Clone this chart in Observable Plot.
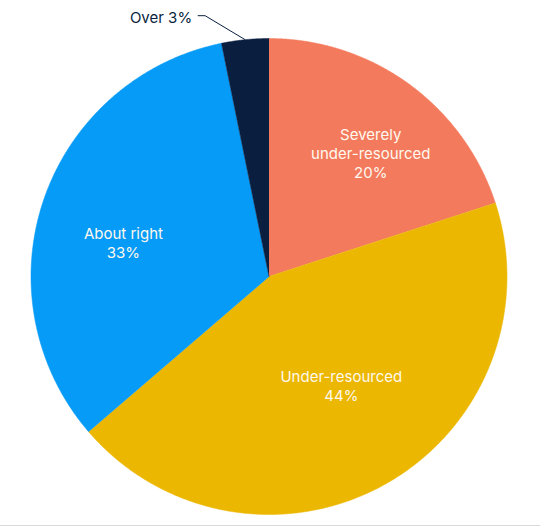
<!DOCTYPE html>
<html><head><meta charset="utf-8">
<script src="https://cdn.jsdelivr.net/npm/d3@7"></script>
<script src="https://cdn.jsdelivr.net/npm/@observablehq/plot@0.6"></script>
<style>
html,body{margin:0;padding:0;background:#fff;}
#chart{width:540px;height:525px;border-bottom:1px solid #d9d9d9;}
#chart svg{display:block;}
</style></head><body><div id="chart"></div>
<script>
const categories = ["Severely under-resourced", "Under-resourced", "About right", "Over"];
const labels = ["Severely\nunder-resourced", "Under-resourced", "About right", "Over"];
const values = [20, 43.7, 33.1, 3.2];
const colors = ["#F47A5D", "#EBB700", "#069BF7", "#0A1F40"];

const W = 540, H = 525, cx = 268.5, cy = 276, R = 238;
const total = d3.sum(values);
let cum = 0;
const slices = categories.map((c, i) => {
  const a0 = cum / total * 2 * Math.PI; cum += values[i];
  const a1 = cum / total * 2 * Math.PI;
  return {c, i, a0, a1, mid: (a0 + a1) / 2};
});
const pts = [];
for (const s of slices) {
  pts.push({c: s.c, x: 0, y: 0});
  const n = Math.max(2, Math.ceil((s.a1 - s.a0) * 180));
  for (let k = 0; k <= n; k++) {
    const a = s.a0 + (s.a1 - s.a0) * k / n;
    pts.push({c: s.c, x: Math.sin(a), y: Math.cos(a)});
  }
}
const font = "Inter, 'Noto Sans', sans-serif";
const nudges = [[15, -4], [0, -20], [-6, 14]];
const inner = slices.slice(0, 3).map((s, j) => Plot.text([s], {
  x: d => 0.62 * Math.sin(d.mid), y: d => 0.62 * Math.cos(d.mid),
  text: d => labels[d.i] + "\n" + Math.round(values[d.i]) + "%",
  fill: "#FFF8EE", fontSize: 15, fontWeight: 400, fontFamily: font, lineHeight: 1.25,
  dx: nudges[j][0], dy: nudges[j][1]
}));
const over = slices[3];
const ex = Math.sin(over.mid), ey = Math.cos(over.mid);
const elx = ex - 40 / R, ely = ey + 24 / R;
const leader = [{x: elx - 7 / R, y: ely}, {x: elx, y: ely}, {x: ex, y: ey}];

const chart = Plot.plot({
  width: W, height: H, margin: 0,
  x: {domain: [-cx / R, (W - cx) / R], axis: null},
  y: {domain: [-(H - cy) / R, cy / R], axis: null},
  color: {domain: categories, range: colors},
  style: {fontFamily: font, background: "#fff"},
  marks: [
    Plot.line(pts, {x: "x", y: "y", z: "c", fill: "c", stroke: "c", strokeWidth: 0.5, curve: "linear"}),
    ...inner,
    Plot.line(leader, {x: "x", y: "y", stroke: "#0A1F40", strokeWidth: 1}),
    Plot.text([leader[0]], {x: "x", y: "y", text: () => labels[3] + " " + Math.round(values[3]) + "%",
      textAnchor: "end", dx: -6, dy: 2, fill: "#0A1F40", fontSize: 15, fontWeight: 400, fontFamily: font})
  ]
});
document.getElementById("chart").append(chart);
</script></body></html>
